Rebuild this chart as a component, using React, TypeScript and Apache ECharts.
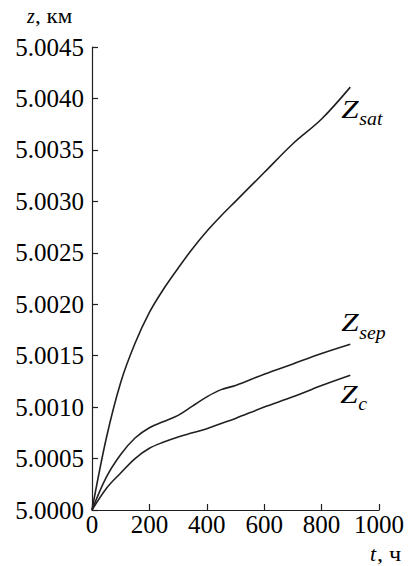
import React, { useEffect, useRef } from "react";
import * as echarts from "echarts";

const hours = [0, 50, 100, 150, 200, 250, 300, 350, 400, 450, 500, 600, 700, 800, 900];
const zSat = [5.0, 5.0007, 5.00124, 5.00162, 5.00192, 5.00215, 5.00235, 5.00254, 5.00271, 5.00286, 5.003, 5.00328, 5.00356, 5.0038, 5.00411];
const zSep = [5.0, 5.00032, 5.00054, 5.0007, 5.0008, 5.00086, 5.00092, 5.00101, 5.0011, 5.00117, 5.00121, 5.00132, 5.00142, 5.00152, 5.00161];
const zC = [5.0, 5.00021, 5.00036, 5.0005, 5.0006, 5.00066, 5.00071, 5.00075, 5.00079, 5.00084, 5.00089, 5.001, 5.0011, 5.00121, 5.00131];

const seriesNames = ["sat", "sep", "c"];
const xMin = 0, xMax = 1000, xStep = 200;
const yMin = 5.0, yMax = 5.0045, yStep = 0.0005;

const FONT = "Liberation Serif";
const INK = "#231f20";

const txt = (x: number, y: number, text: string, size: number, italic: boolean, sx = 1) => ({
  type: "text",
  x,
  y,
  scaleX: sx,
  style: {
    text,
    fontFamily: FONT,
    fontSize: size,
    fontStyle: italic ? "italic" : "normal",
    fill: "#000",
    textAlign: "left",
    textVerticalAlign: "bottom",
  },
});

export default function App() {
  const ref = useRef<HTMLDivElement>(null);
  useEffect(() => {
    if (!ref.current) return;
    const chart = echarts.init(ref.current, null, { renderer: "svg" });
    const mk = (name: string, ys: number[]) => ({
      name,
      type: "line",
      data: hours.map((h, i) => [h, ys[i]]),
      showSymbol: false,
      symbol: "none",
      smooth: 0.35,
      lineStyle: { color: INK, width: 1.6 },
      z: 3,
    });
    chart.setOption({
      animation: false,
      backgroundColor: "#fff",
      textStyle: { fontFamily: FONT },
      grid: { left: 92, right: 29, top: 47, bottom: 56, containLabel: false },
      xAxis: {
        type: "value",
        min: xMin,
        max: xMax,
        interval: xStep,
        axisLine: { lineStyle: { color: INK, width: 1.2 } },
        axisTick: { inside: true, length: 6, lineStyle: { color: INK, width: 1.2 } },
        axisLabel: { color: "#000", fontFamily: FONT, fontSize: 25, margin: 2, formatter: (v: number) => String(v) },
        splitLine: { show: false },
      },
      yAxis: {
        type: "value",
        min: yMin,
        max: yMax,
        interval: yStep,
        axisLine: { show: true, lineStyle: { color: INK, width: 1.2 } },
        axisTick: { show: true, inside: true, length: 6, lineStyle: { color: INK, width: 1.2 } },
        axisLabel: {
          color: "#000",
          fontFamily: FONT,
          fontSize: 25,
          margin: 8,
          formatter: (v: number) => v.toFixed(4),
        },
        splitLine: { show: false },
      },
      series: [mk("sat", zSat), mk("sep", zSep), mk("c", zC)],
    });

    const last = hours.length - 1;
    const ends = [zSat[last], zSep[last], zC[last]].map((y) => chart.convertToPixel({ gridIndex: 0 }, [hours[last], y]) as number[]);
    const offs = [
      [-9, 35],
      [-9, -9],
      [-10, 32],
    ];
    const labels: any[] = [];
    seriesNames.forEach((s, i) => {
      const [ex, ey] = ends[i];
      const bx = ex + offs[i][0];
      const by = ey + offs[i][1];
      labels.push(txt(bx, by, "Z", 25, true, 1.25));
      labels.push(txt(bx + 18, by + 6, s, 18, true, 1.1));
    });
    labels.push(txt(27, 26, "z", 20, true));
    labels.push(txt(35, 26, ", км", 20, false, 1.15));
    labels.push(txt(370, 564, "t", 22, true));
    labels.push(txt(377, 564, ", ч", 22, false, 1.1));
    chart.setOption({ graphic: labels });
    return () => chart.dispose();
  }, []);
  return <div ref={ref} style={{ position: "fixed", left: 0, top: 0, width: 408, height: 566, background: "#fff" }} />;
}
